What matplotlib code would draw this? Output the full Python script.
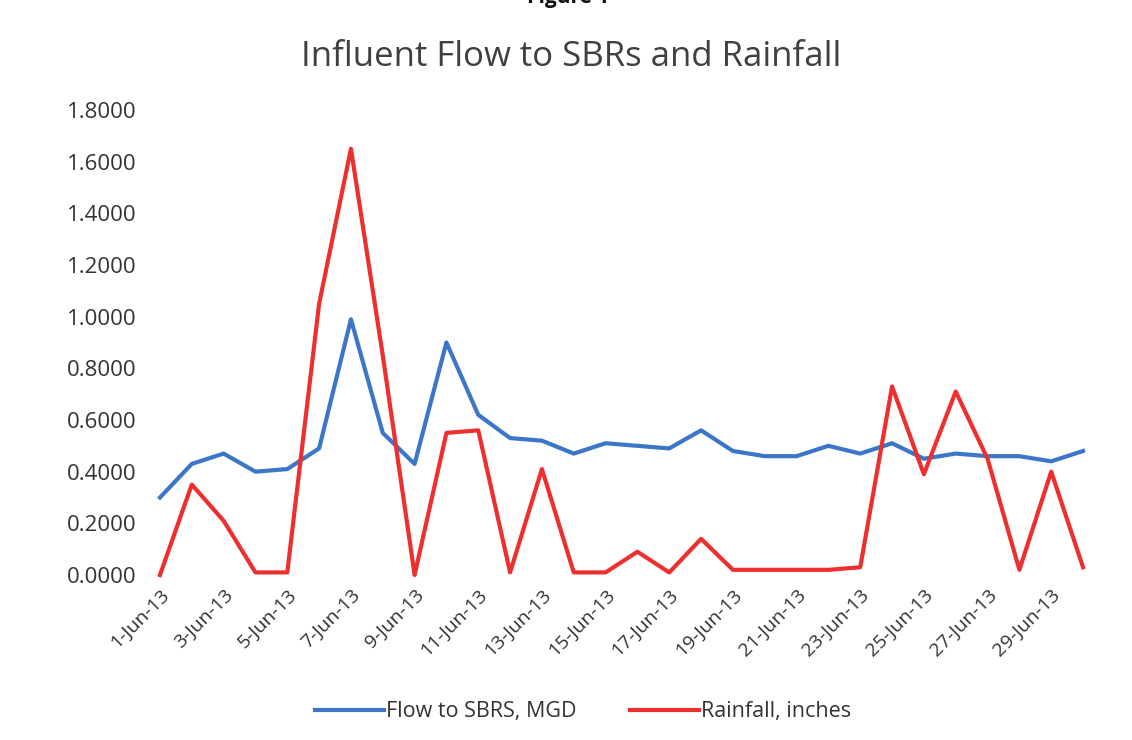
import matplotlib
matplotlib.use("Agg")
import matplotlib.pyplot as plt
import matplotlib.ticker as mticker

plt.rcParams['font.family'] = ['Open Sans', 'DejaVu Sans']

# daily values, June 2013
days = list(range(1, 31))
flow = [0.30, 0.43, 0.47, 0.40, 0.41, 0.49, 0.99, 0.55, 0.43, 0.90,
        0.62, 0.53, 0.52, 0.47, 0.51, 0.50, 0.49, 0.56, 0.48, 0.46,
        0.46, 0.50, 0.47, 0.51, 0.45, 0.47, 0.46, 0.46, 0.44, 0.48]
rain = [0.00, 0.35, 0.21, 0.01, 0.01, 1.05, 1.65, 0.85, 0.00, 0.55,
        0.56, 0.01, 0.41, 0.01, 0.01, 0.09, 0.01, 0.14, 0.02, 0.02,
        0.02, 0.02, 0.03, 0.73, 0.39, 0.71, 0.45, 0.02, 0.40, 0.03]
labels = ['%d-Jun-13' % d for d in days]
y_ticks = [0.0, 0.2, 0.4, 0.6, 0.8, 1.0, 1.2, 1.4, 1.6, 1.8]

W, H = 1132, 740
fig = plt.figure(figsize=(W / 100, H / 100), dpi=100)
ax = fig.add_axes([145 / W, 1 - 575 / H, (1098 - 145) / W, (575 - 110) / H])

x = list(range(len(days)))
ax.plot(x, flow, color='#3b76c9', lw=3.0, clip_on=False, label='Flow to SBRS, MGD')
ax.plot(x, rain, color='#ee2f2f', lw=3.0, clip_on=False, label='Rainfall, inches')

ax.set_xlim(-0.47, 29.47)
ax.set_ylim(0, 1.8)
ax.set_yticks(y_ticks)
ax.yaxis.set_major_formatter(mticker.FormatStrFormatter('%.4f'))
ax.set_xticks(x[::2])
ax.set_xticklabels(labels[::2], rotation=45, ha='right', rotation_mode='anchor')

for s in ax.spines.values():
    s.set_visible(False)
ax.tick_params(length=0, colors='#333333')
ax.tick_params(axis='y', pad=6, labelsize=16)
ax.tick_params(axis='x', pad=8, labelsize=14)

fig.text(0.505, 1 - 57 / H, 'Influent Flow to SBRs and Rainfall', ha='center', va='center',
         fontsize=25, color='#404040')
fig.text(0.502, 1 - 8 / H, 'Figure 1', ha='center', va='bottom', fontsize=15,
         fontweight='bold', color='#111111')

ax.legend(loc='center', bbox_to_anchor=(583 / W, 1 - 712 / H), bbox_transform=fig.transFigure,
          ncol=2, frameon=False, fontsize=15.5, handlelength=3.2, handletextpad=0.1,
          columnspacing=2.5, labelcolor='#333333')

fig.savefig('out.png', dpi=100, facecolor='white')
